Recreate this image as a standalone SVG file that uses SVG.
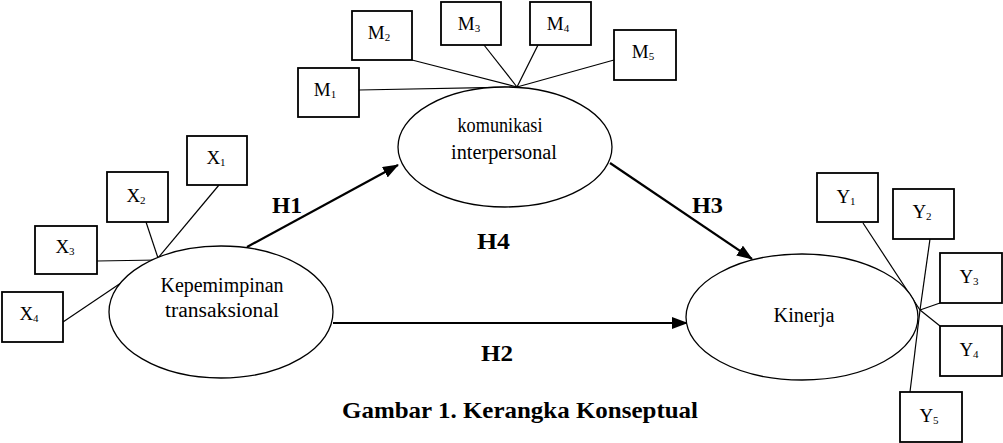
<svg xmlns="http://www.w3.org/2000/svg" width="1003" height="443" viewBox="0 0 1003 443">
<style>
.box{fill:#fff;stroke:#000;stroke-width:1.8}
.ell{fill:#fff;stroke:#000;stroke-width:1.3}
.ind{stroke:#000;stroke-width:1.2;fill:none}
.arr{stroke:#000;stroke-width:2.2;fill:none;marker-end:url(#ah)}
.lbl{font-family:"Liberation Serif","Times New Roman",serif;font-size:19px;fill:#000;text-anchor:middle}
.sub{font-size:11px}
.ctext{font-family:"Liberation Serif","Times New Roman",serif;font-size:20px;fill:#000;text-anchor:middle}
.h{font-family:"Liberation Serif","Times New Roman",serif;font-size:23px;font-weight:bold;fill:#000}
</style>
<defs>
<marker id="ah" markerUnits="userSpaceOnUse" markerWidth="16" markerHeight="12" refX="15" refY="6" orient="auto">
<path d="M0,0 L16,6 L0,12 Z" fill="#000"/>
</marker>
</defs>
<rect width="1003" height="443" fill="#fff"/>

<g id="connectors">
<line class="ind" x1="219" y1="185" x2="158" y2="258"/>
<line class="ind" x1="146" y1="222" x2="158" y2="258"/>
<line class="ind" x1="97" y1="261" x2="158" y2="260"/>
<line class="ind" x1="63" y1="322" x2="158" y2="258"/>
<line class="ind" x1="359" y1="90" x2="517" y2="87"/>
<line class="ind" x1="412" y1="60" x2="517" y2="87"/>
<line class="ind" x1="484" y1="45" x2="517" y2="87"/>
<line class="ind" x1="538" y1="45" x2="517" y2="87"/>
<line class="ind" x1="614" y1="60" x2="517" y2="87"/>
<line class="ind" x1="863" y1="223" x2="920" y2="310"/>
<line class="ind" x1="930" y1="239" x2="920" y2="310"/>
<line class="ind" x1="940" y1="303" x2="920" y2="310"/>
<line class="ind" x1="940" y1="326" x2="920" y2="310"/>
<line class="ind" x1="910" y1="392" x2="920" y2="310"/>
<line class="arr" x1="247" y1="247" x2="398" y2="165"/>
<line class="arr" x1="333" y1="323" x2="687" y2="323"/>
<line class="arr" x1="610" y1="163" x2="752" y2="259"/>
</g>

<g id="kepemimpinan">
<ellipse class="ell" cx="221" cy="312" rx="112" ry="66"/>
<text class="ctext" x="222" y="292" textLength="123" lengthAdjust="spacingAndGlyphs">Kepemimpinan</text>
<text class="ctext" x="222" y="317" textLength="114" lengthAdjust="spacingAndGlyphs">transaksional</text>
</g>
<g id="komunikasi">
<ellipse class="ell" cx="505" cy="147" rx="107" ry="60"/>
<text class="ctext" x="500" y="132" textLength="85" lengthAdjust="spacingAndGlyphs">komunikasi</text>
<text class="ctext" x="504" y="159" textLength="106" lengthAdjust="spacingAndGlyphs">interpersonal</text>
</g>
<g id="kinerja">
<ellipse class="ell" cx="802" cy="317" rx="116" ry="63"/>
<text class="ctext" x="804" y="322" textLength="61" lengthAdjust="spacingAndGlyphs">Kinerja</text>
</g>

<g id="X1"><rect class="box" x="187" y="136" width="60" height="49"/><text class="lbl" x="216" y="164">X<tspan class="sub" dy="2">1</tspan></text></g>
<g id="X2"><rect class="box" x="107" y="172" width="61" height="50"/><text class="lbl" x="136" y="202">X<tspan class="sub" dy="2">2</tspan></text></g>
<g id="X3"><rect class="box" x="35" y="226" width="62" height="48"/><text class="lbl" x="65" y="253">X<tspan class="sub" dy="2">3</tspan></text></g>
<g id="X4"><rect class="box" x="2" y="292" width="61" height="50"/><text class="lbl" x="29" y="320">X<tspan class="sub" dy="2">4</tspan></text></g>

<g id="M1"><rect class="box" x="298" y="68" width="61" height="49"/><text class="lbl" x="325" y="96">M<tspan class="sub" dy="2">1</tspan></text></g>
<g id="M2"><rect class="box" x="352" y="11" width="60" height="49"/><text class="lbl" x="379" y="39">M<tspan class="sub" dy="2">2</tspan></text></g>
<g id="M3"><rect class="box" x="441" y="2" width="60" height="43"/><text class="lbl" x="469" y="30">M<tspan class="sub" dy="2">3</tspan></text></g>
<g id="M4"><rect class="box" x="530" y="2" width="61" height="43"/><text class="lbl" x="558" y="30">M<tspan class="sub" dy="2">4</tspan></text></g>
<g id="M5"><rect class="box" x="614" y="30" width="62" height="50"/><text class="lbl" x="643" y="58">M<tspan class="sub" dy="2">5</tspan></text></g>

<g id="Y1"><rect class="box" x="817" y="173" width="61" height="49"/><text class="lbl" x="846" y="203">Y<tspan class="sub" dy="2">1</tspan></text></g>
<g id="Y2"><rect class="box" x="893" y="189" width="61" height="50"/><text class="lbl" x="922" y="218">Y<tspan class="sub" dy="2">2</tspan></text></g>
<g id="Y3"><rect class="box" x="940" y="253" width="62" height="50"/><text class="lbl" x="969" y="283">Y<tspan class="sub" dy="2">3</tspan></text></g>
<g id="Y4"><rect class="box" x="940" y="326" width="62" height="50"/><text class="lbl" x="969" y="356">Y<tspan class="sub" dy="2">4</tspan></text></g>
<g id="Y5"><rect class="box" x="900" y="392" width="62" height="50"/><text class="lbl" x="929" y="422">Y<tspan class="sub" dy="2">5</tspan></text></g>

<g id="labels">
<text class="h" x="272" y="213" textLength="30" lengthAdjust="spacingAndGlyphs">H1</text>
<text class="h" x="692" y="213" textLength="31" lengthAdjust="spacingAndGlyphs">H3</text>
<text class="h" x="477" y="249" textLength="33" lengthAdjust="spacingAndGlyphs">H4</text>
<text class="h" x="481" y="361" textLength="32" lengthAdjust="spacingAndGlyphs">H2</text>
<text class="h" x="342" y="418" textLength="356" lengthAdjust="spacingAndGlyphs">Gambar 1. Kerangka Konseptual</text>
</g>
</svg>
